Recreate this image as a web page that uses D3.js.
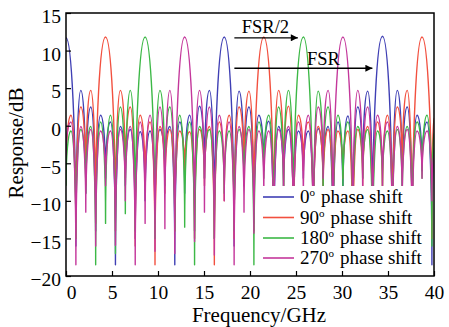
<!DOCTYPE html>
<html><head><meta charset="utf-8">
<script src="https://cdn.jsdelivr.net/npm/d3@7"></script>
<style>
body{margin:0;background:#fff;}
svg{display:block;}
text{font-family:"Liberation Serif","Times New Roman",serif;fill:#000;}
</style>
</head><body>
<svg id="chart" width="449" height="327"></svg>
<script>
// ---------- data ----------
const xTicks = [0, 5, 10, 15, 20, 25, 30, 35, 40];
const yTicks = [-20, -15, -10, -5, 0, 5, 10, 15];

// frequencies of the null / main-peak grid (GHz)
const gridGHz = [0, 1.075, 2.15, 3.225, 4.3, 5.375, 6.45, 7.525, 8.6, 9.675, 10.75, 11.825,
  12.9, 13.975, 15.05, 16.125, 17.2, 18.275, 19.35, 20.425, 21.5, 22.575, 23.65, 24.725,
  25.8, 26.875, 27.95, 29.025, 30.1, 31.175, 32.25, 33.325, 34.4, 35.475, 36.55, 37.625,
  38.7, 39.775];
// frequencies of side-lobe tops (GHz)
const lobeGHz = [0.54, 1.61, 2.69, 3.76, 4.84, 5.91, 6.99, 8.06, 9.14, 10.21, 11.29, 12.36,
  13.44, 14.51, 15.59, 16.66, 17.74, 18.81, 19.89, 20.96, 22.04, 23.11, 24.19, 25.26,
  26.34, 27.41, 28.49, 29.56, 30.64, 31.71, 32.79, 33.86, 34.94, 36.01, 37.09, 38.16, 39.24];
const endGHz = 40;

// 0 deg phase shift
const blueGrid = [11.7, -16, -9, -14, -7, -18.5, -8, -15, -10, -13, -6, -18.5, -9, -14, -7, -15,
  11.8, -16, -8, -13, -6, -18.5, -9, -15, -7, -14, -8, -18.5, -10, -15, -7, -14,
  11.9, -16, -8, -15, -6, -18.5];
const blueLobe = [null, 4.7, 2.5, 1.4, 0.5, -0.1, -0.5, -0.8, -0.7, -0.5, -0.1, 0.5, 1.4, 2.6, 4.7,
  null, null, 4.6, 2.5, 1.4, 0.6, -0.1, -0.5, -0.7, -0.7, -0.4, -0.1, 0.5, 1.3, 2.5, 4.6,
  null, null, 4.7, 2.5, 1.4, 0.5];
const blueEnd = -3;

// 90 deg phase shift
const redGrid = [-6, -15, -8, -13, 11.8, -14, -7, -16, -8, -18.5, -9, -14, -6, -15, -8, -18.5,
  -10, -15, -7, -14, 11.8, -15, -8, -18.5, -6, -15, -9, -14, -7, -18.5, -8, -15,
  -10, -14, -6, -17, 11.8, -15];
const redLobe = [1.4, 2.5, 4.7, null, null, 4.7, 2.5, 1.4, 0.5, -0.1, -0.5, -0.7, -0.8, -0.5, -0.1, 0.5,
  1.4, 2.5, 4.6, null, null, 4.7, 2.6, 1.4, 0.5, -0.1, -0.5, -0.7, -0.7, -0.5, -0.1, 0.5,
  1.4, 2.5, 4.7, null, null];
const redEnd = 1;

// 180 deg phase shift
const greenGrid = [-8, -15, -9, -18.5, -13, -17, -11.7, -14, 11.8, -15, -8, -14, -13.5, -18.5, -7, -15,
  -9, -14, -8, -18.5, -7, -15, -10, -14, 11.8, -18.5, -8, -15, -9, -14, -7, -18.5,
  -8, -15, -10, -14, -7, -16];
const greenLobe = [-0.7, -0.5, -0.1, 0.5, 1.4, 2.5, 4.7, null, null, 4.7, 2.5, 1.4, 0.5, -0.1, -0.5, -0.7,
  -0.7, -0.5, -0.1, 0.5, 1.4, 2.5, 4.7, null, null, 4.6, 2.5, 1.4, 0.5, -0.1, -0.5, -0.7,
  -0.7, -0.5, -0.1, 0.5, 1.4];
const greenEnd = -1;

// 270 deg phase shift
const magentaGrid = [-4, -18.5, -11.5, -16, -8, -15.9, -10, -18.5, -13, -16.7, -13.7, -17, 11.8, -15.4, -11.5, -17.2,
  -10, -18.5, -11.5, -14.3, -9, -16, -8, -15, -10, -17, -7, -15, 11.8, -16, -9, -15,
  -8, -17, -10, -15, -7, -10];
const magentaLobe = [0.5, -0.1, -0.5, -0.7, -0.7, -0.5, -0.1, 0.5, 1.4, 2.5, 4.7, null, null, 4.7, 2.5, 1.4,
  0.5, -0.1, -0.5, -0.7, -0.7, -0.5, -0.1, 0.5, 1.4, 2.5, 4.7, null, null, 4.7, 2.5, 1.4,
  0.5, -0.1, -0.5, -0.7, -0.7];
const magentaEnd = -4;

const seriesLabels = ["0", "90", "180", "270"];
const seriesColors = ["#3f3fb4", "#f2503f", "#3cb846", "#c4379b"];

const annotations = [
  {label: "FSR/2", from: 18.3, to: 25.2, y: 11.7, textX: 19.1, textY: 12.3},
  {label: "FSR", from: 18.3, to: 33.3, y: 7.65, textX: 26.2, textY: 8.1}
];

// ---------- drawing ----------
const svg = d3.select("#chart");
const x = d3.scaleLinear().domain([0, 40]).range([66, 434]);
const y = d3.scaleLinear().domain([-20, 15]).range([276, 13]);

function buildSeries(grid, lobe, endVal) {
  const pts = [];
  grid.forEach((v, k) => {
    pts.push([gridGHz[k], v]);
    if (k < lobe.length && lobe[k] !== null) pts.push([lobeGHz[k], lobe[k]]);
  });
  pts.push([endGHz, endVal]);
  return pts;
}
const series = [
  buildSeries(blueGrid, blueLobe, blueEnd),
  buildSeries(redGrid, redLobe, redEnd),
  buildSeries(greenGrid, greenLobe, greenEnd),
  buildSeries(magentaGrid, magentaLobe, magentaEnd)
];

// custom d3 curve: rounded lobe tops, sharp nulls
function LobeCurve(ctx) { this._ctx = ctx; }
LobeCurve.prototype = {
  areaStart() {}, areaEnd() {},
  lineStart() { this._p = 0; },
  lineEnd() {},
  point(px, py) {
    px = +px; py = +py;
    if (!this._p) { this._p = 1; this._ctx.moveTo(px, py); }
    else {
      const x0 = this._x, y0 = this._y, dx = px - x0, dy = py - y0;
      if (dy > 0) this._ctx.bezierCurveTo(x0 + dx * 0.55, y0, px, y0 + dy * 0.45, px, py);
      else this._ctx.bezierCurveTo(x0, py - dy * 0.45, px - dx * 0.55, py, px, py);
    }
    this._x = px; this._y = py;
  }
};
const lobeCurve = ctx => new LobeCurve(ctx);

svg.append("defs").append("clipPath").attr("id", "clip")
  .append("rect").attr("x", 66).attr("y", 13).attr("width", 368).attr("height", 263);

const line = d3.line().x(d => x(d[0])).y(d => y(d[1])).curve(lobeCurve);
const gl = svg.append("g").attr("clip-path", "url(#clip)");
series.forEach((s, i) => {
  gl.append("path").datum(s).attr("d", line)
    .attr("fill", "none").attr("stroke", seriesColors[i])
    .attr("stroke-width", 1.4).attr("stroke-linejoin", "round");
});

// legend (white box covering the lines)
const lg = svg.append("g");
lg.append("rect").attr("x", 258).attr("y", 186).attr("width", 171).attr("height", 88).attr("fill", "#fff");
const legY = [197, 217.5, 238, 258];
seriesLabels.forEach((lab, i) => {
  lg.append("line").attr("x1", 263).attr("x2", 294).attr("y1", legY[i]).attr("y2", legY[i])
    .attr("stroke", seriesColors[i]).attr("stroke-width", 1.6);
  const t = lg.append("text").attr("x", 300).attr("y", legY[i] + 6).attr("font-size", 19);
  t.append("tspan").text(lab);
  t.append("tspan").attr("dy", -7).attr("font-size", 11).text("o");
  t.append("tspan").attr("dy", 7).attr("dx", 6).text("phase shift");
});

// axes
const gx = svg.append("g").attr("transform", "translate(0,276)")
  .call(d3.axisBottom(x).tickValues(xTicks).tickSize(-5).tickSizeOuter(0).tickPadding(9));
const gy = svg.append("g").attr("transform", "translate(66,0)")
  .call(d3.axisLeft(y).tickValues(yTicks).tickSize(-5).tickSizeOuter(0).tickPadding(5));
[gx, gy].forEach(g => {
  g.select(".domain").remove();
  g.selectAll("line").attr("stroke", "#000").attr("stroke-width", 1.2);
  g.selectAll("text").attr("font-size", 19.5).attr("font-family", "Liberation Serif").attr("fill", "#000");
});
gx.selectAll(".tick text").filter(d => d === 0).attr("dx", 5);
gy.selectAll(".tick text").attr("dy", "0.5em");

svg.append("rect").attr("x", 66).attr("y", 13).attr("width", 368).attr("height", 263)
  .attr("fill", "none").attr("stroke", "#000").attr("stroke-width", 1.5);

// axis titles
svg.append("text").attr("x", 259).attr("y", 322).attr("text-anchor", "middle")
  .attr("font-size", 21).text("Frequency/GHz");
svg.append("text").attr("transform", "translate(23,143) rotate(-90)").attr("text-anchor", "middle")
  .attr("font-size", 21).text("Response/dB");

// annotations
svg.append("defs").append("marker").attr("id", "arrow").attr("viewBox", "0 0 10 10")
  .attr("refX", 10).attr("refY", 5).attr("markerWidth", 9).attr("markerHeight", 7)
  .attr("markerUnits", "userSpaceOnUse").attr("orient", "auto")
  .append("path").attr("d", "M0,0L10,5L0,10Z").attr("fill", "#000");
annotations.forEach(a => {
  svg.append("line").attr("x1", x(a.from)).attr("x2", x(a.to)).attr("y1", y(a.y)).attr("y2", y(a.y))
    .attr("stroke", "#000").attr("stroke-width", 1.3).attr("marker-end", "url(#arrow)");
  svg.append("text").attr("x", x(a.textX)).attr("y", y(a.textY)).attr("font-size", 18.5).text(a.label);
});
</script>
</body></html>
